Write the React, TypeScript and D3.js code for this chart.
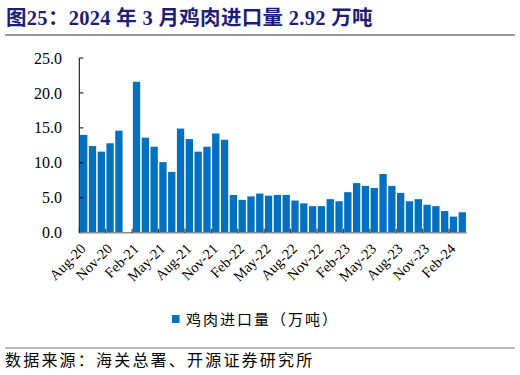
import React from "react";
import * as d3 from "d3";

const categories: string[] = [
  "Aug-20", "Sep-20", "Oct-20", "Nov-20", "Dec-20", "Jan-21", "Feb-21", "Mar-21", "Apr-21", "May-21", "Jun-21", "Jul-21",
  "Aug-21", "Sep-21", "Oct-21", "Nov-21", "Dec-21", "Jan-22", "Feb-22", "Mar-22", "Apr-22", "May-22", "Jun-22", "Jul-22",
  "Aug-22", "Sep-22", "Oct-22", "Nov-22", "Dec-22", "Jan-23", "Feb-23", "Mar-23", "Apr-23", "May-23", "Jun-23", "Jul-23",
  "Aug-23", "Sep-23", "Oct-23", "Nov-23", "Dec-23", "Jan-24", "Feb-24", "Mar-24",
];

const importVolume: (number | null)[] = [
  14.0, 12.4, 11.6, 12.8, 14.6, null, 21.6, 13.6, 12.3, 10.1, 8.7, 14.9,
  13.4, 11.6, 12.3, 14.2, 13.3, 5.4, 4.7, 5.2, 5.6, 5.3, 5.4, 5.4,
  4.6, 4.2, 3.8, 3.8, 4.8, 4.5, 5.8, 7.1, 6.7, 6.4, 8.4, 6.7,
  5.7, 4.5, 4.8, 4.0, 3.8, 3.1, 2.3, 2.92,
];

const yTicks: number[] = [0, 5, 10, 15, 20, 25];
const xLabelStep = 3;

const titleText = "图25：2024 年 3 月鸡肉进口量 2.92 万吨";
const legendText = "鸡肉进口量（万吨）";
const sourceText = "数据来源：海关总署、开源证券研究所";

const W = 520;
const H = 375;
const plot = { left: 79.3, right: 466.7, top: 58, bottom: 232.7 };
const BAR = "#0070C0";
const SERIF = "'Liberation Serif', 'Times New Roman', 'Noto Sans CJK SC', serif";
const CJK = "'Noto Sans CJK SC', sans-serif";

export default function App() {
  const x = d3
    .scaleBand<string>()
    .domain(categories)
    .range([plot.left, plot.right])
    .paddingInner(0.17)
    .paddingOuter(0.085);
  const y = d3.scaleLinear().domain([0, 25]).range([plot.bottom, plot.top]);
  const step = x.step();
  const x0 = plot.left;

  const tickIdx = d3.range(0, categories.length, xLabelStep);

  return (
    <svg
      width={W}
      height={H}
      viewBox={`0 0 ${W} ${H}`}
      style={{ position: "absolute", left: 0, top: 0, background: "#fff" }}
    >
      {/* title */}
      <text
        x={6}
        y={25}
        fontFamily={SERIF}
        fontSize={20.5}
        fontWeight="bold"
        letterSpacing={0.3}
        fill="#1d1d78"
      >
        {titleText}
      </text>
      <line x1={5} x2={515} y1={35} y2={35} stroke="#333" strokeWidth={1.2} />

      {/* bars */}
      {importVolume.map((v, i) =>
        v == null ? null : (
          <rect
            key={categories[i]}
            x={x(categories[i])!}
            y={y(v)}
            width={x.bandwidth()}
            height={y(0) - y(v)}
            fill={BAR}
          />
        )
      )}

      {/* y axis */}
      <line x1={plot.left} x2={plot.left} y1={plot.top} y2={plot.bottom} stroke="#000" strokeWidth={1} />
      {yTicks.map((t) => (
        <g key={t}>
          <line x1={plot.left} x2={plot.left + 4} y1={y(t)} y2={y(t)} stroke="#000" strokeWidth={1} />
          <text
            x={62}
            y={y(t)}
            dy="0.35em"
            textAnchor="end"
            fontFamily={SERIF}
            fontSize={16}
            fill="#000"
          >
            {t.toFixed(1)}
          </text>
        </g>
      ))}

      {/* x axis */}
      <line x1={plot.left} x2={plot.right} y1={plot.bottom} y2={plot.bottom} stroke="#8a8a8a" strokeWidth={1.4} />
      {tickIdx.map((i) => (
        <line
          key={"t" + i}
          x1={x0 + i * step}
          x2={x0 + i * step}
          y1={plot.bottom}
          y2={plot.bottom - 4}
          stroke="#222"
          strokeWidth={1}
        />
      ))}
      {tickIdx.map((i) => {
        const cx = x(categories[i])! + x.bandwidth() / 2 + 3;
        const cy = plot.bottom + 17;
        return (
          <text
            key={"l" + i}
            transform={`translate(${cx},${cy}) rotate(-45)`}
            textAnchor="end"
            fontFamily={SERIF}
            fontSize={14.5}
            fill="#000"
          >
            {categories[i]}
          </text>
        );
      })}

      {/* legend */}
      <rect x={172} y={315} width={7.5} height={8} fill={BAR} />
      <text x={186} y={325} fontFamily={CJK} fontSize={15} letterSpacing={2} fill="#000">
        {legendText}
      </text>

      {/* footer */}
      <line x1={5} x2={515} y1={348} y2={348} stroke="#777" strokeWidth={1.2} />
      <text x={5} y={366} fontFamily={CJK} fontSize={16} letterSpacing={2.2} fill="#000">
        {sourceText}
      </text>
    </svg>
  );
}
